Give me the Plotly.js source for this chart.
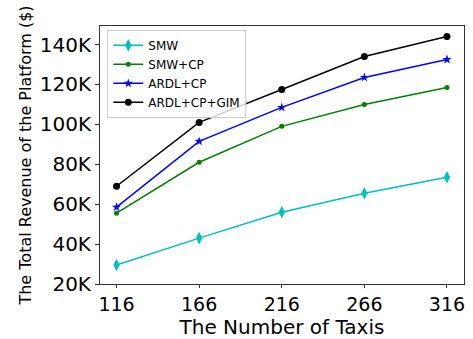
<!DOCTYPE html>
<html><head><meta charset="utf-8">
<script src="https://cdn.plot.ly/plotly-3.0.1.min.js"></script>
<style>body{margin:0;padding:0;background:#fff}#chart{width:473px;height:339px}</style>
</head><body><div id="chart"></div>
<script>
const taxis = [116, 166, 216, 266, 316];
const smw = [29500, 43000, 56000, 65500, 73500];
const smwCp = [55500, 81000, 99000, 110000, 118500];
const ardlCp = [58500, 91500, 108500, 123500, 132500];
const ardlCpGim = [69000, 101000, 117500, 134000, 144000];
const seriesNames = ['SMW', 'SMW+CP', 'ARDL+CP', 'ARDL+CP+GIM'];
const yTicks = [20000, 40000, 60000, 80000, 100000, 120000, 140000];
const yTickText = ['20K', '40K', '60K', '80K', '100K', '120K', '140K'];

const font = 'DejaVu Sans, sans-serif';
function tr(y, name, color, symbol, size) {
  return {x: taxis, y: y, name: name, type: 'scatter', mode: 'lines+markers',
    line: {color: color, width: 1.5}, marker: {color: color, symbol: symbol, size: size}};
}
const data = [
  tr(smw, seriesNames[0], '#00BFBF', 'diamond-tall', 9),
  tr(smwCp, seriesNames[1], '#008000', 'circle', 5),
  tr(ardlCp, seriesNames[2], '#0000FF', 'star', 7),
  tr(ardlCpGim, seriesNames[3], '#000000', 'circle', 7)
];
const layout = {
  width: 473, height: 339,
  margin: {l: 100, r: 9, t: 26, b: 55},
  paper_bgcolor: '#fff', plot_bgcolor: '#fff',
  font: {family: font, color: '#000'},
  showlegend: true,
  legend: {x: 0.02, y: 0.985, xanchor: 'left', yanchor: 'top',
    bgcolor: 'rgba(255,255,255,0.8)', bordercolor: '#cccccc', borderwidth: 1,
    font: {size: 12, family: font}, tracegroupgap: 0, itemwidth: 30},
  xaxis: {range: [106, 326.3], tickvals: taxis, ticktext: taxis.map(String),
    showgrid: false, zeroline: false, showline: true, mirror: true, linecolor: '#333', linewidth: 1,
    ticks: 'outside', ticklen: 3, tickcolor: '#333',
    tickfont: {size: 19, family: font},
    title: {text: 'The Number of Taxis', font: {size: 20, family: font}, standoff: 2}},
  yaxis: {range: [20000, 149300], tickvals: yTicks, ticktext: yTickText,
    showgrid: false, zeroline: false, showline: true, mirror: true, linecolor: '#333', linewidth: 1,
    ticks: 'outside', ticklen: 4, tickcolor: '#333',
    tickfont: {size: 20, family: font},
    title: {text: 'The Total Revenue of the Platform ($)', font: {size: 16, family: font}, standoff: 4}}
};
Plotly.newPlot('chart', data, layout, {staticPlot: true});
</script></body></html>
